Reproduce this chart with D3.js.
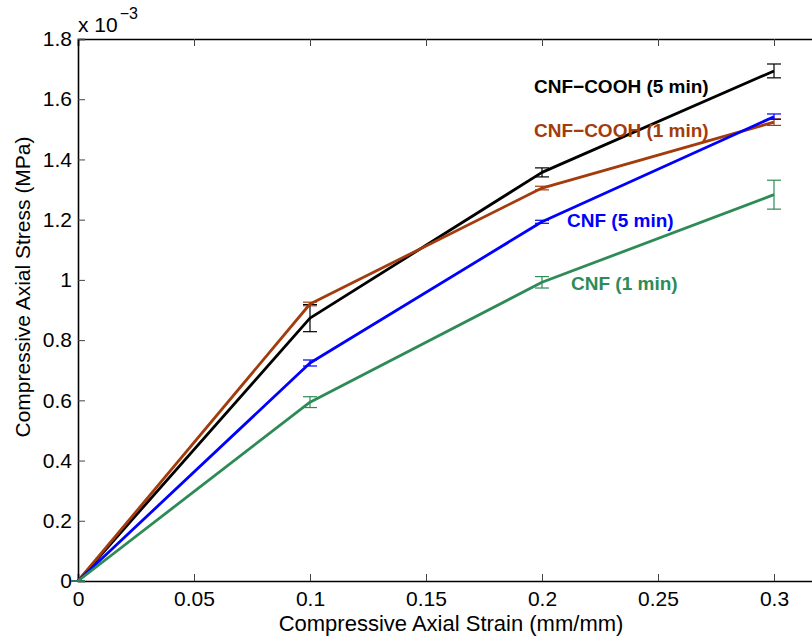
<!DOCTYPE html>
<html>
<head>
<meta charset="utf-8">
<script src="https://cdn.jsdelivr.net/npm/d3@7"></script>
<style>
  body { margin: 0; background: #fff; }
  svg { display: block; font-family: "Liberation Sans", Arial, Helvetica, sans-serif; }
</style>
</head>
<body>
<svg id="chart"></svg>
<script>
// Strain points (mm/mm) shared by every series
var strain = [0, 0.1, 0.2, 0.3];

// Series names and colours
var seriesNames = ["CNF-COOH (5 min)", "CNF-COOH (1 min)", "CNF (5 min)", "CNF (1 min)"];
var seriesLabels = ["CNF\u2212COOH (5 min)", "CNF\u2212COOH (1 min)", "CNF (5 min)", "CNF (1 min)"];
var seriesColours = ["#000000", "#a33c0c", "#0000ff", "#2e8b57"];

// Mean stress (x 10^-3 MPa) for each series
var stressCooh5 = [0, 0.873, 1.357, 1.694];
var stressCooh1 = [0, 0.920, 1.305, 1.524];
var stressCnf5 = [0, 0.724, 1.193, 1.542];
var stressCnf1 = [0, 0.594, 0.992, 1.283];

// Error bar half-heights (x 10^-3 MPa)
var errCooh5 = [0, 0.045, 0.015, 0.023];
var errCooh1 = [0, 0.006, 0.006, 0.011];
var errCnf5 = [0, 0.010, 0.005, 0.009];
var errCnf1 = [0, 0.018, 0.019, 0.048];

// Tick values
var xTicks = [0, 0.05, 0.1, 0.15, 0.2, 0.25, 0.3];
var yTicks = [0, 0.2, 0.4, 0.6, 0.8, 1, 1.2, 1.4, 1.6, 1.8];

var stressAll = [stressCooh5, stressCooh1, stressCnf5, stressCnf1];
var errAll = [errCooh5, errCooh1, errCnf5, errCnf1];

// Where each inline label sits (left x, baseline y)
var labelPos = [[534, 93], [534, 137], [567, 227], [571, 290]];

var width = 812,
    height = 637,
    margin = { top: 39, left: 78, bottom: 56 };

var svg = d3.select("#chart")
  .attr("width", width)
  .attr("height", height);

// Scales (x limit runs past the cropped right edge)
var x = d3.scaleLinear()
  .domain([0, 0.35])
  .range([margin.left, margin.left + 696 / 0.3 * 0.35]);

var y = d3.scaleLinear()
  .domain([0, 1.8])
  .range([height - margin.bottom, margin.top]);

var fmt = function (d) { return String(+d.toFixed(2)); };

// Axes with inward ticks
var xAxis = svg.append("g")
  .attr("transform", "translate(0," + y(0) + ")")
  .call(d3.axisBottom(x).tickValues(xTicks).tickSize(-7).tickPadding(10).tickFormat(fmt));

var xTop = svg.append("g")
  .attr("transform", "translate(0," + y(1.8) + ")")
  .call(d3.axisTop(x).tickValues(xTicks).tickSize(-7).tickFormat(""));

var yAxis = svg.append("g")
  .attr("transform", "translate(" + x(0) + ",0)")
  .call(d3.axisLeft(y).tickValues(yTicks).tickSize(-7).tickPadding(6).tickFormat(fmt));

[xAxis, xTop, yAxis].forEach(function (a) {
  a.select(".domain").attr("stroke", "#000").attr("stroke-width", 1.6);
  a.selectAll(".tick line").attr("stroke", "#444").attr("stroke-width", 1);
  a.selectAll(".tick text")
    .attr("fill", "#000")
    .style("font-size", "21px");
});

// Axis titles
svg.append("text")
  .attr("x", 451)
  .attr("y", 631)
  .style("text-anchor", "middle")
  .style("font-size", "22px")
  .text("Compressive Axial Strain (mm/mm)");

svg.append("text")
  .attr("transform", "translate(30,287) rotate(-90)")
  .style("text-anchor", "middle")
  .style("font-size", "21px")
  .text("Compressive Axial Stress (MPa)");

// Exponent label
var expo = svg.append("text")
  .attr("x", 78)
  .attr("y", 32)
  .style("font-size", "21px")
  .text("x 10");
expo.append("tspan")
  .attr("dx", 2)
  .attr("dy", -13)
  .style("font-size", "16px")
  .text("\u22123");

var line = d3.line()
  .x(function (d, i) { return x(strain[i]); })
  .y(function (d) { return y(d); });

// Draw each series: line, then error bars
stressAll.forEach(function (vals, s) {
  var g = svg.append("g")
    .attr("class", "series")
    .attr("data-name", seriesNames[s]);

  g.append("path")
    .datum(vals)
    .attr("d", line)
    .attr("fill", "none")
    .attr("stroke", seriesColours[s])
    .attr("stroke-width", 2.8)
    .attr("stroke-linejoin", "round");

  var bars = g.selectAll(".err")
    .data(vals)
    .enter().append("g")
    .attr("class", "err")
    .attr("stroke", seriesColours[s])
    .attr("stroke-width", 1.2);

  bars.append("line")
    .attr("x1", function (d, i) { return x(strain[i]); })
    .attr("x2", function (d, i) { return x(strain[i]); })
    .attr("y1", function (d, i) { return y(d - errAll[s][i]); })
    .attr("y2", function (d, i) { return y(d + errAll[s][i]); });

  [-1, 1].forEach(function (k) {
    bars.append("line")
      .attr("x1", function (d, i) { return x(strain[i]) - 7; })
      .attr("x2", function (d, i) { return x(strain[i]) + 7; })
      .attr("y1", function (d, i) { return y(d + k * errAll[s][i]); })
      .attr("y2", function (d, i) { return y(d + k * errAll[s][i]); });
  });
});

// Inline series labels
svg.selectAll(".series-label")
  .data(seriesLabels)
  .enter().append("text")
  .attr("class", "series-label")
  .attr("x", function (d, i) { return labelPos[i][0]; })
  .attr("y", function (d, i) { return labelPos[i][1]; })
  .attr("fill", function (d, i) { return seriesColours[i]; })
  .style("font-size", "19px")
  .style("font-weight", "bold")
  .text(function (d) { return d; });
</script>
</body>
</html>
